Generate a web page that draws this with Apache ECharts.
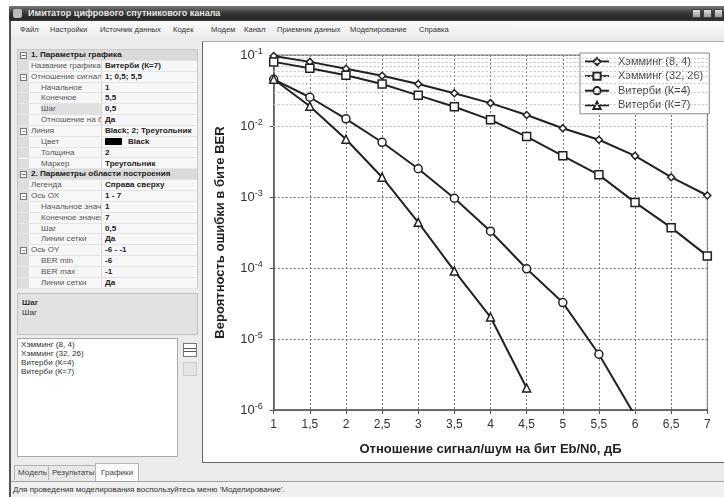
<!DOCTYPE html>
<html><head><meta charset="utf-8">
<script src="https://cdn.jsdelivr.net/npm/echarts@6/dist/echarts.min.js"></script>
<style>
body{margin:0;width:724px;height:497px;overflow:hidden;background:#fff;font-family:"Liberation Sans",Arial,sans-serif;position:relative;color:#222}
div{box-sizing:border-box}
.a{position:absolute;white-space:nowrap}
#win{left:9px;top:6px;width:715px;height:491px;background:#ebebeb;border-left:2px solid #555}
#title{left:9px;top:6px;width:715px;height:15px;background:linear-gradient(#7a7a7a,#3a3a3a 45%,#262626 80%,#3a3a3a);color:#e6e6e6;font-size:9px;font-weight:bold;line-height:15px;padding-left:19px}
#menu{left:11px;top:21px;width:713px;height:17px;background:linear-gradient(#fafafa,#ececec);font-size:7.6px;line-height:17px;color:#333}
.wb{top:9px;width:9px;height:9px;background:linear-gradient(#e0e0e0,#9a9a9a);border:1px solid #444}
#pg{left:17px;top:49px;width:181px;height:240px;background:#f7f7f7;border:1px solid #c8c8c8}
.row{position:absolute;left:0;width:179px;height:10.85px;font-size:8.1px;line-height:10.85px;border-bottom:1px solid #e4e4e4}
.mg{position:absolute;left:0;top:0;width:11px;height:100%;background:#dedede}
.hd{background:#dadada;font-weight:bold}
.nm{position:absolute;color:#555}
.vl{position:absolute;left:83px;top:0;height:100%;padding-left:3px;font-weight:bold;border-left:1px solid #d8d8d8;width:96px}
.ex{position:absolute;left:2px;top:2px;width:7px;height:7px;border:1px solid #777;background:#fff;font-size:7px;line-height:5px;text-align:center;color:#333}
#desc{left:17px;top:293px;width:181px;height:42px;background:#e2e2e2;border:1px solid #c2c2c2;font-size:8.1px;padding:4px 0 0 4px;line-height:10px;color:#333}
#list{left:17px;top:338px;width:161px;height:119px;background:#fff;border:1px solid #a8a8a8;font-size:8.1px;line-height:9px;padding:1px 0 0 3px;color:#333}
#chartbox{left:202px;top:41px;width:522px;height:422px;background:#fff;border-left:1px solid #666;border-top:1px solid #aaa;border-bottom:1px solid #666}
#chart{position:absolute;left:202px;top:41px;width:522px;height:422px}
.tab{top:465px;height:15px;font-size:8.1px;line-height:14px;border:1px solid #b4b4b4;border-bottom:none;background:#e8e8e8;padding:0 3px;color:#444}
#status{left:11px;top:481px;width:713px;height:16px;border-top:1px solid #a0a0a0;background:#f0f0f0;font-size:8px;line-height:15px;padding-left:2px;color:#333}
</style></head>
<body>
<div class="a" id="win"></div>
<div class="a" id="title">Имитатор цифрового спутникового канала</div>
<div class="a" style="left:13px;top:9px;width:9px;height:9px;background:#bbb;border-radius:2px"></div>
<div class="a wb" style="left:692px"></div>
<div class="a wb" style="left:703px"></div>
<div class="a wb" style="left:714px"></div>
<div class="a" id="menu"></div>
<div class="a" id="pg"></div>
<div class="a" id="desc"><b>Шаг</b><br>Шаг</div>
<div class="a" id="list"></div>
<div class="a" style="left:183px;top:343px;width:14px;height:14px;border:1px solid #777;background:linear-gradient(#fff 0,#fff 30%,#555 30%,#555 40%,#fff 40%,#fff 60%,#555 60%,#555 70%,#fff 70%)"></div>
<div class="a" style="left:183px;top:362px;width:14px;height:14px;border:1px solid #ccc;background:#e4e4e4"></div>
<div class="a" id="chartbox"></div>
<div id="chart"></div>
<div class="a tab" style="left:14px">Модель</div>
<div class="a tab" style="left:48px">Результаты</div>
<div class="a tab" style="left:95px;top:463px;height:18px;background:#fafafa;padding:0 5px;line-height:18px">Графики</div>
<div class="a" id="status">Для проведения моделирования воспользуйтесь меню 'Моделирование'.</div>
<script>
// ---- chart data ----
const xValues = [1, 1.5, 2, 2.5, 3, 3.5, 4, 4.5, 5, 5.5, 6, 6.5, 7];
const seriesNames = ['Хэмминг (8, 4)', 'Хэмминг (32, 26)', 'Витерби (К=4)', 'Витерби (К=7)'];
const hamming84   = [0.097, 0.080, 0.064, 0.051, 0.039, 0.029, 0.021, 0.0143, 0.0093, 0.0064, 0.0038, 0.0019, 0.00105];
const hamming3226 = [0.080, 0.065, 0.052, 0.039, 0.027, 0.0187, 0.0122, 0.0071, 0.0038, 0.00205, 0.00084, 0.00037, 0.000148];
const viterbiK4   = [0.0455, 0.0254, 0.0126, 0.0059, 0.0025, 0.00096, 0.00033, 0.0000975, 0.0000326, 0.0000061, 0.00000083];
const viterbiK7   = [0.0455, 0.019, 0.0065, 0.0019, 0.00044, 0.000091, 0.0000204, 0.00000204];
const xMin = 1, xMax = 7, xStep = 0.5;
const berMin = 1e-6, berMax = 1e-1;
const minorMultipliers = [2, 3, 4, 5, 6, 7, 8, 9];
const xAxisTitle = 'Отношение сигнал/шум на бит Eb/N0, дБ';
const yAxisTitle = 'Вероятность ошибки в бите BER';

// ---- UI texts ----
const menuItems = [['Файл',20],['Настройки',50],['Источник данных',100],['Кодек',173],['Модем',211],['Канал',244],['Приемник данных',277],['Моделирование',350],['Справка',419]];
const propRows = [
 ['h','1. Параметры графика',''],
 ['0','Название графика','Витерби (К=7)'],
 ['e','Отношение сигнал/ш','1; 0,5; 5,5'],
 ['1','Начальное','1'],
 ['1','Конечное','5,5'],
 ['s','Шаг','0,5'],
 ['1','Отношение на бит','Да'],
 ['e','Линия','Black; 2; Треугольник'],
 ['c','Цвет','Black'],
 ['1','Толщина','2'],
 ['1','Маркер','Треугольник'],
 ['h','2. Параметры области построения',''],
 ['0','Легенда','Справа сверху'],
 ['e','Ось ОХ','1 - 7'],
 ['1','Начальное значен','1'],
 ['1','Конечное значен','7'],
 ['1','Шаг','0,5'],
 ['1','Линии сетки','Да'],
 ['e','Ось OY','-6 - -1'],
 ['1','BER min','-6'],
 ['1','BER max','-1'],
 ['1','Линии сетки','Да']
];
const menu = document.getElementById('menu');
menuItems.forEach(([t,x]) => { const d=document.createElement('div'); d.className='a'; d.style.left=(x-11)+'px'; d.textContent=t; menu.appendChild(d); });
const pg = document.getElementById('pg');
propRows.forEach(([k,n,v],i) => {
  const r=document.createElement('div'); r.className='row'+(k==='h'?' hd':''); r.style.top=(i*10.85)+'px';
  let html='';
  if(k!=='h') html+='<div class="mg"></div>';
  if(k==='h'||k==='e') html+='<div class="ex">−</div>';
  const nx = (k==='1'||k==='s'||k==='c') ? 23 : 13;
  if(k==='h') html+='<div class="nm" style="left:13px;color:#222">'+n+'</div>';
  else {
    html+='<div class="nm" style="left:'+nx+'px;'+(k==='s'?'background:#e0e0e0;':'')+'width:'+(83-nx)+'px;overflow:hidden">'+n+'</div>';
    html+='<div class="vl">'+(k==='c'?'<span style="display:inline-block;width:17px;height:7px;background:#000;vertical-align:-1px;margin-right:6px"></span>':'')+v+'</div>';
  }
  r.innerHTML=html; pg.appendChild(r);
});
document.getElementById('list').innerHTML = seriesNames.join('<br>');

// ---- chart ----
const chart = echarts.init(document.getElementById('chart'));
const minorLines = [];
for (let e = -6; e <= -2; e++) minorMultipliers.forEach(m => minorLines.push({ yAxis: m * Math.pow(10, e) }));
const markers = ['diamond', 'rect', 'circle', 'triangle'];
const markerSizes = [7, 8, 8, 8];
const datasets = [hamming84, hamming3226, viterbiK4, viterbiK7];
const lineSeries = datasets.map((arr, i) => ({
  name: seriesNames[i], type: 'line', z: 5,
  data: arr.map((v, j) => [xValues[j], v]),
  symbol: markers[i], symbolSize: markerSizes[i], showAllSymbol: true,
  lineStyle: { color: '#222', width: 2 },
  itemStyle: { color: '#fff', borderColor: '#222', borderWidth: 1.5 },
  clip: true
}));
const baseFont = '"Liberation Sans", Arial, sans-serif';
chart.setOption({
  animation: false,
  textStyle: { fontFamily: baseFont },
  grid: { left: 71.7, right: 16.7, top: 14, bottom: 53, show: true, borderColor: '#777', borderWidth: 1 },
  legend: {
    data: seriesNames, orient: 'vertical', left: 378, top: 12, padding: [3, 6, 3, 4],
    itemWidth: 24, itemHeight: 9, itemGap: 3.6,
    backgroundColor: '#fff', borderColor: '#888', borderWidth: 1, borderRadius: 0,
    textStyle: { fontSize: 11, lineHeight: 10, color: '#444', fontFamily: baseFont, padding: [0, 0, 0, 4] }
  },
  xAxis: {
    type: 'value', min: xMin, max: xMax, interval: xStep,
    name: xAxisTitle, nameLocation: 'middle', nameGap: 33,
    nameTextStyle: { fontSize: 13, fontWeight: 'bold', color: '#222' },
    axisLine: { lineStyle: { color: '#555', width: 1.5 } },
    axisTick: { show: true, length: 4, lineStyle: { color: '#555' } },
    axisLabel: { fontSize: 12, color: '#333', margin: 9, formatter: v => String(v).replace('.', ',') },
    splitLine: { show: true, lineStyle: { color: '#777', type: [2, 2], width: 1 } }
  },
  yAxis: {
    type: 'log', logBase: 10, min: berMin, max: berMax, interval: 1,
    name: yAxisTitle, nameLocation: 'middle', nameGap: 47,
    nameTextStyle: { fontSize: 13, fontWeight: 'bold', color: '#222' },
    axisLine: { show: true, lineStyle: { color: '#555', width: 1.5 } },
    axisTick: { show: true, length: 4, lineStyle: { color: '#555' } },
    axisLabel: {
      margin: 11, color: '#333',
      formatter: v => '{b|10}{s|' + Math.round(Math.log10(v)) + '}',
      rich: { b: { fontSize: 13, color: '#333', fontFamily: baseFont }, s: { fontSize: 9, color: '#333', fontFamily: baseFont, verticalAlign: 'top', padding: [0, 0, 6, 0] } }
    },
    splitLine: { show: true, lineStyle: { color: '#777', type: [2, 2], width: 1 } }
  },
  series: [{
    type: 'line', data: [], z: 1, silent: true,
    markLine: { silent: true, symbol: 'none', label: { show: false }, animation: false,
      lineStyle: { color: '#c4c4c4', type: [2, 2], width: 1 }, data: minorLines }
  }].concat(lineSeries)
});
</script>
</body></html>
